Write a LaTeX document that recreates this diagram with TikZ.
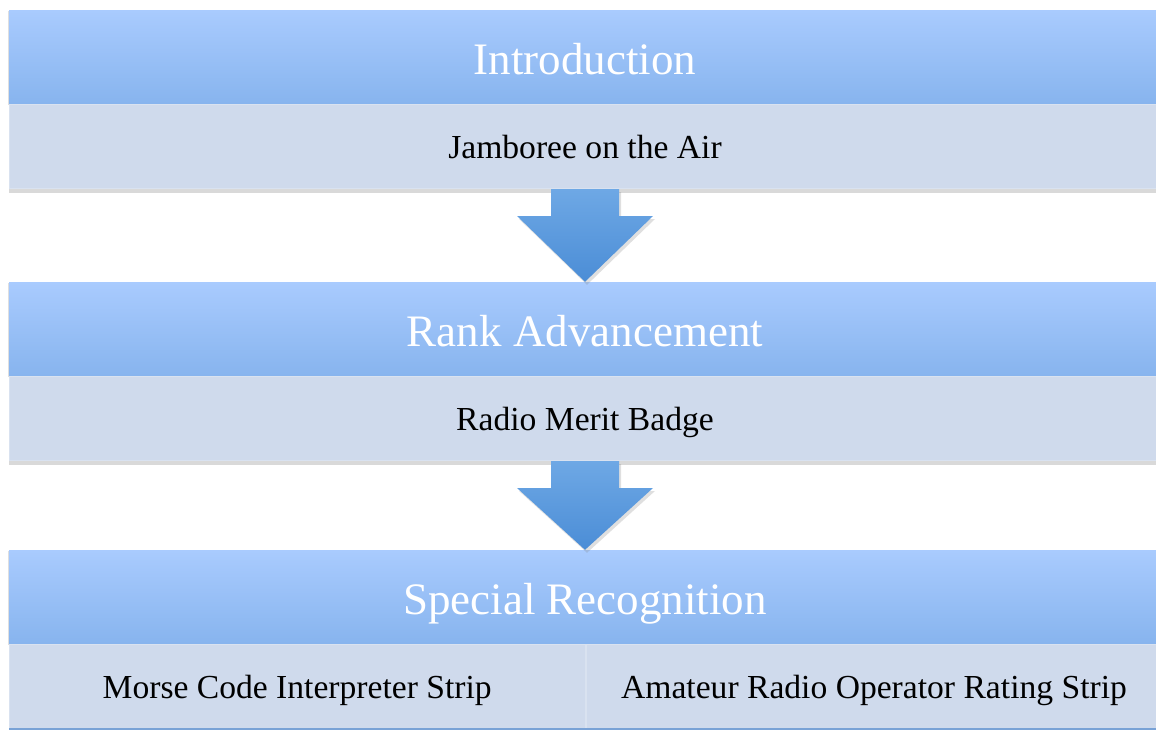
\documentclass[tikz,border=0pt]{standalone}
\usepackage{fontspec}
\setmainfont{Liberation Serif}
\usetikzlibrary{positioning,calc,shadows}

\definecolor{hdtop}{HTML}{A9CBFE}
\definecolor{hdbot}{HTML}{87B4EE}
\definecolor{bodyfill}{HTML}{CFDAEC}
\definecolor{bodyline}{HTML}{D9E2F0}
\definecolor{arrtop}{HTML}{6EA8E5}
\definecolor{arrbot}{HTML}{4B8DD6}

\begin{document}
\begin{tikzpicture}[x=1pt,y=-1pt,
 head/.style={minimum width=1152pt,minimum height=94pt,inner sep=0pt,top color=hdtop,bottom color=hdbot,
  text=white,text height=34pt,text depth=0pt,font=\fontsize{45}{54}\selectfont,
  drop shadow={shadow xshift=-1pt,shadow yshift=-1pt,opacity=.25}},
 body/.style={minimum height=84pt,inner sep=0pt,fill=bodyfill,draw=bodyline,line width=.8pt,
  text height=24pt,text depth=0pt,font=\fontsize{33.6}{40}\selectfont,
  drop shadow={shadow xshift=0pt,shadow yshift=-4pt,opacity=.3}},
 flow/.style={top color=arrtop,bottom color=arrbot,drop shadow={shadow xshift=2pt,shadow yshift=-3pt,opacity=.25}}]
\clip (0,0) rectangle (1156,729);
\node[head] (intro) at (585,57) {Introduction};
\node[body,minimum width=1152pt,below=0pt of intro] (jota) {Jamboree on the Air};
\node[head] (rank) at (585,329) {Rank Advancement};
\node[body,minimum width=1152pt,below=0pt of rank] (badge) {Radio Merit Badge};
\node[head] (rec) at (585,597) {Special Recognition};
\node[body,minimum width=576pt,below=0pt of rec.south west,anchor=north west] (morse) {Morse Code Interpreter Strip};
\node[body,minimum width=576pt,right=0pt of morse] (strip) {Amateur Radio Operator Rating Strip};
\draw[hdbot!90!black,line width=3pt] (morse.south west) -- (strip.south east);
% arrows
\path[flow] ($(jota.south)+(-34,0)$) -- ++(0,27) -- ++(-34,0) -- (rank.north)
 -- ($(jota.south)+(68,27)$) -- ++(-34,0) -- ($(jota.south)+(34,0)$) -- cycle;
\path[flow] ($(badge.south)+(-34,0)$) -- ++(0,27) -- ++(-34,0) -- (rec.north)
 -- ($(badge.south)+(68,27)$) -- ++(-34,0) -- ($(badge.south)+(34,0)$) -- cycle;
\end{tikzpicture}
\end{document}
